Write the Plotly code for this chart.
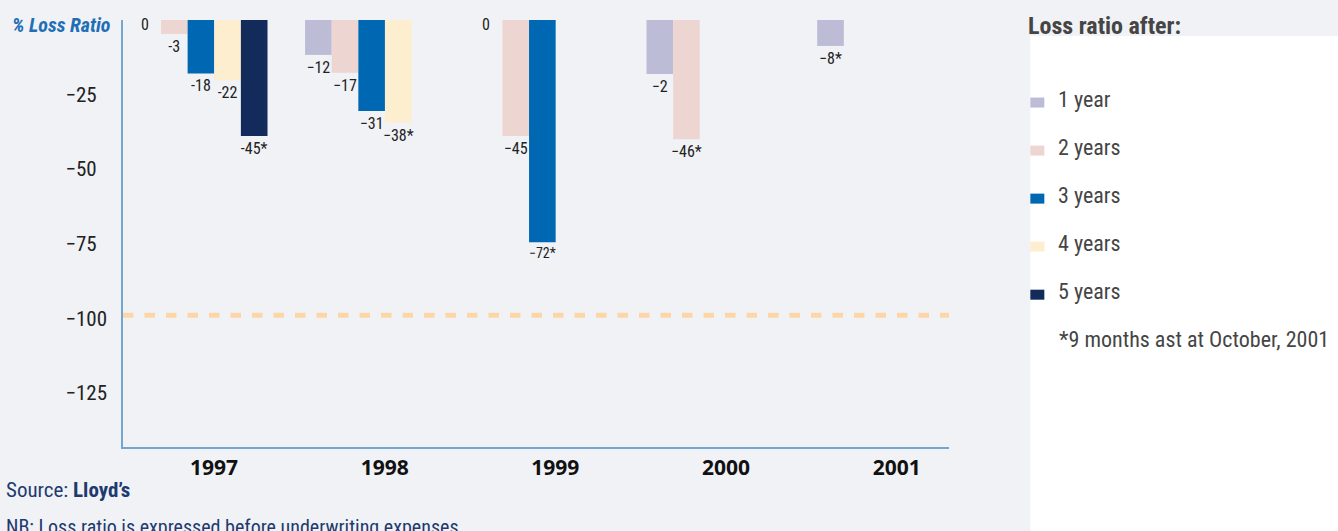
import plotly.graph_objects as go

# ---------------- data ----------------
years = ["1997", "1998", "1999", "2000", "2001"]
series_names = ["1 year", "2 years", "3 years", "4 years", "5 years"]
series_colors = ["#bcbcd6", "#edd5d2", "#0068b3", "#fdeecf", "#132b5a"]

# bar lengths as drawn in the picture (% loss ratio)
one_year = [0, -11.7, 0, -18.1, -8.7]
two_years = [-4.7, -17.7, -38.9, -40.0, None]
three_years = [-17.9, -30.5, -74.5, None, None]
four_years = [-20.2, -34.5, None, None, None]
five_years = [-38.9, None, None, None, None]

# labels printed under the bars
one_year_lbl = ["0", "−12", "0", "−2", "−8*"]
two_years_lbl = ["-3", "−17", "−45", "−46*", ""]
three_years_lbl = ["-18", "−31", "−72*", "", ""]
four_years_lbl = ["-22", "−38*", "", "", ""]
five_years_lbl = ["-45*", "", "", "", ""]

y_tick_vals = [-25, -50, -75, -100, -125]
y_tick_text = ["−25\u2007", "−50\u2007", "−75\u2007", "−100", "−125"]
reference_level = -99

footnote = "*9 months ast at October, 2001"

# ---------------- layout helpers ----------------
W, H = 1338, 531
L, R, T, B = 123, 948.7, 20, 446.7
BARGAP = 0.22


def px_x(p):
    return (p - L) / (R - L)


def px_y(p):
    return (B - p) / (B - T)


BG = "#f0f2f6"
AXIS = "#74a6d2"
NARROW = "Liberation Sans Narrow, Arial Narrow, Roboto Condensed, sans-serif"
LABEL_COLOR = "#222222"

values = [one_year, two_years, three_years, four_years, five_years]
labels = [one_year_lbl, two_years_lbl, three_years_lbl, four_years_lbl, five_years_lbl]

fig = go.Figure()
annotations = []
bar_w = (1 - BARGAP) / len(series_names)
for ti, (name, col, vals, lbls) in enumerate(zip(series_names, series_colors, values, labels)):
    sizes = [14 if t == "−72*" else 16 for t in lbls]
    bar_text = [("" if v == 0 else t) for v, t in zip(vals, lbls)]
    fig.add_trace(go.Bar(
        x=years, y=vals, name=name,
        marker=dict(color=col, line=dict(width=0)),
        text=bar_text, textposition="outside", constraintext="none",
        textfont=dict(family=NARROW, size=sizes, color=LABEL_COLOR),
        cliponaxis=False, showlegend=False, hoverinfo="skip",
    ))
    # zero-length bars: label sits just under the baseline
    for ci, (v, t) in enumerate(zip(vals, lbls)):
        if v == 0:
            annotations.append(dict(
                text=t, xref="x", yref="y",
                x=ci - (1 - BARGAP) / 2 + bar_w * (ti + 0.5), y=v,
                xanchor="center", yanchor="middle", xshift=-3, yshift=-4,
                showarrow=False,
                font=dict(family=NARROW, size=16, color=LABEL_COLOR)))

shapes = []
# white legend panel
shapes.append(dict(type="rect", xref="paper", yref="paper",
                   x0=px_x(1030), x1=px_x(W + 5), y0=px_y(36), y1=px_y(H + 5),
                   fillcolor="#ffffff", line=dict(width=0), layer="below"))
# reference dashed line
shapes.append(dict(type="line", xref="paper", yref="y",
                   x0=0, x1=1, y0=reference_level, y1=reference_level,
                   line=dict(color="#fdd6a6", width=5, dash="10.5px,11px")))

annotations.append(dict(text="<b><i>% Loss Ratio</i></b>", xref="paper", yref="paper",
                        x=px_x(10), y=px_y(25), xanchor="left", yanchor="middle",
                        showarrow=False,
                        font=dict(family=NARROW, size=20, color="#1f6fb6")))
annotations.append(dict(text="<b>Loss ratio after:</b>", xref="paper", yref="paper",
                        x=px_x(1026), y=px_y(26), xanchor="left", yanchor="middle",
                        showarrow=False,
                        font=dict(family=NARROW, size=24, color="#454545")))
for i, (name, col) in enumerate(zip(series_names, series_colors)):
    yc = 102.5 + 48 * i
    shapes.append(dict(type="rect", xref="paper", yref="paper",
                       x0=px_x(1030), x1=px_x(1044), y0=px_y(yc - 5), y1=px_y(yc + 5),
                       fillcolor=col, line=dict(width=0)))
    annotations.append(dict(text=name, xref="paper", yref="paper",
                            x=px_x(1056), y=px_y(yc - 3), xanchor="left", yanchor="middle",
                            showarrow=False,
                            font=dict(family=NARROW, size=22, color="#454545")))
annotations.append(dict(text=footnote, xref="paper", yref="paper",
                        x=px_x(1057), y=px_y(339), xanchor="left", yanchor="middle",
                        showarrow=False,
                        font=dict(family=NARROW, size=22, color="#454545")))
annotations.append(dict(text="Source: <b>Lloyd’s</b>", xref="paper", yref="paper",
                        x=px_x(4), y=px_y(490), xanchor="left", yanchor="middle",
                        showarrow=False,
                        font=dict(family=NARROW, size=21, color="#1f3a6e")))
annotations.append(dict(text="NB: Loss ratio is expressed before underwriting expenses",
                        xref="paper", yref="paper",
                        x=px_x(4), y=px_y(527), xanchor="left", yanchor="middle",
                        showarrow=False,
                        font=dict(family=NARROW, size=20, color="#1f3a6e")))

fig.update_layout(
    width=W, height=H,
    margin=dict(l=L, r=W - R, t=T, b=H - B, autoexpand=False),
    paper_bgcolor=BG, plot_bgcolor=BG,
    barmode="group", bargap=BARGAP, bargroupgap=0,
    shapes=shapes, annotations=annotations,
    showlegend=False,
)
fig.update_xaxes(
    type="category", range=[-0.4565, 4.382],
    showline=True, linecolor=AXIS, linewidth=1.5, showgrid=False, zeroline=False,
    ticks="", ticklabelshift=13, ticklabelstandoff=1,
    tickfont=dict(family="Open Sans", size=21, color="#111111", weight="bold"),
)
fig.update_yaxes(
    range=[-143.2, 0], tickvals=y_tick_vals, ticktext=y_tick_text,
    showline=True, linecolor=AXIS, linewidth=1.5, showgrid=False, zeroline=False,
    ticks="", ticklabelstandoff=10,
    tickfont=dict(family=NARROW, size=21, color="#222222"),
)

fig.write_html("out.html")
